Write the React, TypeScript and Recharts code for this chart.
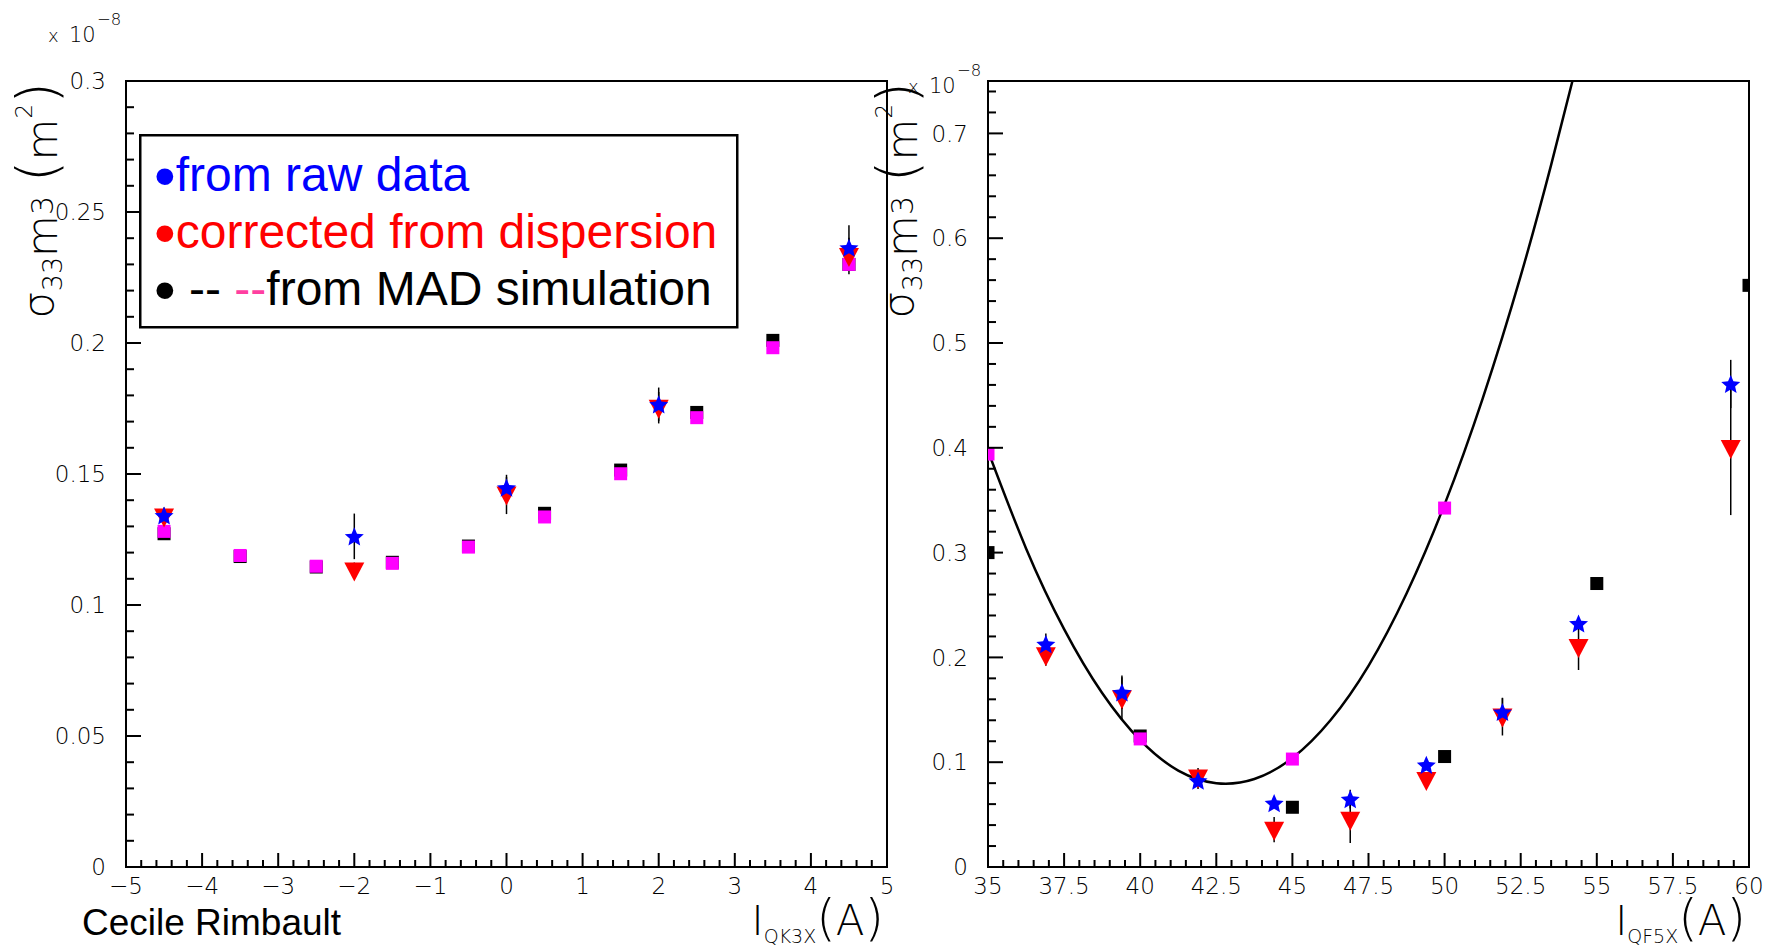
import React from 'react';
import { ComposedChart, Scatter, Line, XAxis, YAxis, ReferenceArea, ErrorBar, Legend } from 'recharts';

// ---- left pad : scan of I_QK3X ----
const qkX = [-4.5, -2, 0, 2, 4.5];
const qkRaw = [0.1342, 0.1262, 0.1448, 0.1766, 0.2364];
const qkRawErr = [0.003, 0.0087, 0.004, 0.0064, 0.0085];
const qkCorr = [0.1338, 0.1132, 0.1422, 0.1753, 0.2332];
const qkCorrErr = [0.003, 0.003, 0.0075, 0.006, 0.007];
const qkMadX = [-4.5, -3.5, -2.5, -1.5, -0.5, 0.5, 1.5, 2.5, 3.5, 4.5];
const qkMadBlack = [0.1272, 0.1185, 0.1145, 0.1163, 0.1225, 0.135, 0.1515, 0.1735, 0.201, 0.23];
const qkMadPink = [0.1281, 0.1189, 0.1148, 0.1159, 0.1221, 0.1336, 0.1501, 0.1715, 0.1982, 0.23];
const qkXTicks = [-5, -4, -3, -2, -1, 0, 1, 2, 3, 4, 5];
const qkYTicks = [0, 0.05, 0.1, 0.15, 0.2, 0.25, 0.3];

// ---- right pad : scan of I_QF5X ----
const qfX = [36.9, 39.4, 41.9, 44.4, 46.9, 49.4, 51.9, 54.4, 59.4];
const qfRaw = [0.2127, 0.1667, 0.0825, 0.061, 0.0648, 0.0975, 0.148, 0.2324, 0.4609];
const qfRawErr = [0.01, 0.016, 0.008, 0.005, 0.009, 0.005, 0.013, 0.005, 0.023];
const qfCorr = [0.202, 0.161, 0.0855, 0.0356, 0.045, 0.083, 0.1435, 0.21, 0.3998];
const qfCorrErr = [0.01, 0.02, 0.009, 0.012, 0.022, 0.005, 0.018, 0.022, 0.064];
const qfMadBlackX = [35, 40, 45, 50, 55, 60];
const qfMadBlack = [0.3, 0.125, 0.057, 0.1054, 0.2705, 0.555];
const qfMadPinkX = [35, 40, 45, 50];
const qfMadPink = [0.394, 0.1222, 0.103, 0.3425];
const qfFitX = [35, 36.25, 37.5, 38.75, 40, 41.25, 42.5, 43.75, 45, 46.25, 47.5, 48.75, 50, 51.25, 52.5, 53.5, 54.2];
const qfFitY = [0.397, 0.304, 0.227, 0.166, 0.121, 0.092, 0.08, 0.084, 0.104, 0.14, 0.192, 0.261, 0.346, 0.447, 0.564, 0.67, 0.75];
const qfXTicks = [35, 37.5, 40, 42.5, 45, 47.5, 50, 52.5, 55, 57.5, 60];
const qfYTicks = [0, 0.1, 0.2, 0.3, 0.4, 0.5, 0.6, 0.7];

const legendLabels = ['from raw data', 'corrected from dispersion', 'from MAD simulation'];

const zip = (xs: number[], ys: number[], errs?: number[]) =>
  xs.map((x, i) => ({ x, y: ys[i], err: errs ? errs[i] : 0 }));

// minor ticks every `step` between lo and hi
const steps = (lo: number, hi: number, step: number) => {
  const out: number[] = [];
  for (let v = lo; v <= hi + 1e-9; v += step) out.push(Math.round(v * 1e6) / 1e6);
  return out;
};

const THIN = "'DejaVu Sans', sans-serif";
const ARIAL = "'Liberation Sans', Arial, sans-serif";
const PINK = '#ff3fa0';

const isMajor = (majors: number[], v: number) => majors.some((m) => Math.abs(m - v) < 1e-7);

const minusFmt = (v: number) => (v < 0 ? `\u2212${Math.abs(v)}` : `${v}`);

const makeYTick = (majors: number[]) => (props: any) => {
  const { x, y, payload } = props;
  const major = isMajor(majors, payload.value);
  return (
    <g>
      <line x1={x} x2={x + (major ? 15 : 8)} y1={y} y2={y} stroke="#000" strokeWidth={2} />
      {major && (
        <text x={x - 20} y={y} dy="0.36em" textAnchor="end" fontFamily={THIN} fontWeight={200} fontSize={23} fill="#000">
          {payload.value}
        </text>
      )}
    </g>
  );
};

const makeXTick = (majors: number[]) => (props: any) => {
  const { x, y, payload } = props;
  const major = isMajor(majors, payload.value);
  return (
    <g>
      <line x1={x} x2={x} y1={y} y2={y - (major ? 14 : 7)} stroke="#000" strokeWidth={2} />
      {major && (
        <text x={x} y={y + 27} textAnchor="middle" fontFamily={THIN} fontWeight={200} fontSize={23} fill="#000">
          {minusFmt(payload.value)}
        </text>
      )}
    </g>
  );
};

const Star = (p: any) => {
  const { cx, cy } = p;
  if (cx == null || cy == null) return null;
  let pts = '';
  for (let i = 0; i < 10; i++) {
    const a = -Math.PI / 2 + (i * Math.PI) / 5;
    const r = i % 2 === 0 ? 10 : 4.6;
    pts += `${cx + r * Math.cos(a)},${cy + 1 + r * Math.sin(a)} `;
  }
  return <polygon points={pts} fill="#0000ff" />;
};

const TriDown = (p: any) => {
  const { cx, cy } = p;
  if (cx == null || cy == null) return null;
  return <polygon points={`${cx - 10},${cy - 8} ${cx + 10},${cy - 8} ${cx},${cy + 11}`} fill="#ff0000" />;
};

const square = (color: string) => (p: any) => {
  const { cx, cy } = p;
  if (cx == null || cy == null) return null;
  return <rect x={cx - 6.5} y={cy - 6.5} width={13} height={13} fill={color} />;
};

// sigma_33 m^3 (m^2) rotated title plus the x10^-8 exponent
const YTitle = (props: any) => {
  const vb = props.viewBox || { x: 0 };
  const bx = vb.x + 56;
  const exY = props.exY as number;
  return (
    <g fontFamily={THIN} fontWeight={200} fill="#000">
      <text transform={`translate(${bx},82) rotate(-90)`} textAnchor="end" fontSize={43}>
        <tspan dy={-3}>σ</tspan>
        <tspan fontSize={27} dy={9}>33</tspan>
        <tspan dy={-5}>m</tspan>
        <tspan fontSize={30} dy={-4}>3</tspan>
        <tspan dy={4}> </tspan>
        <tspan fontSize={56} dy={-1}>(</tspan>
        <tspan dy={1}>m</tspan>
        <tspan fontSize={23} dy={-25}>2</tspan>
        <tspan fontSize={56} dy={24}>)</tspan>
      </text>
      <text x={vb.x + 48} y={exY} fontSize={18}>x</text>
      <text x={vb.x + 69} y={exY} fontSize={21}>10</text>
      <text x={vb.x + 97} y={exY - 17} fontSize={16.5}>{'\u22128'}</text>
    </g>
  );
};

const XTitle = (props: any) => {
  const vb = props.viewBox || { x: 0, y: 0, width: 0 };
  const sub = props.sub as string;
  return (
    <g>
      <text x={vb.x + vb.width - 3} y={935} textAnchor="end" fontFamily={THIN} fontWeight={200} fill="#000" fontSize={41}>
        <tspan>I</tspan>
        <tspan fontSize={19} dy={8}>{sub}</tspan>
        <tspan fontSize={50} dy={-8}>(</tspan>
        <tspan fontSize={42}>A</tspan>
        <tspan fontSize={50}>)</tspan>
      </text>
      {props.author && (
        <text x={82} y={935} fontFamily={ARIAL} fontSize={37} fill="#000">
          {props.author}
        </text>
      )}
    </g>
  );
};

const Bullet = () => (
  <tspan fontSize={62} dy={6}>
    {'\u2022'}
  </tspan>
);

const LegendBox = () => (
  <svg width={600} height={196} style={{ display: 'block' }}>
    <rect x={1.25} y={1.25} width={597} height={192} fill="#fff" stroke="#000" strokeWidth={2.5} />
    <g fontFamily={ARIAL} fontSize={48}>
      <text x={15} y={57} fill="#0000ff">
        <Bullet />
        <tspan dy={-6}>{legendLabels[0]}</tspan>
      </text>
      <text x={15} y={114} fill="#ff0000">
        <Bullet />
        <tspan dy={-6}>{legendLabels[1]}</tspan>
      </text>
      <text x={15} y={171} fill="#000">
        <Bullet />
        <tspan dy={-6}>{' -- '}</tspan>
        <tspan fill={PINK}>--</tspan>
        <tspan>{legendLabels[2]}</tspan>
      </text>
    </g>
  </svg>
);

export default function App() {
  const qkRawData = zip(qkX, qkRaw, qkRawErr);
  const qkCorrData = zip(qkX, qkCorr, qkCorrErr);
  const qkBlackData = zip(qkMadX, qkMadBlack);
  const qkPinkData = zip(qkMadX, qkMadPink);

  const qfRawData = zip(qfX, qfRaw, qfRawErr);
  const qfCorrData = zip(qfX, qfCorr, qfCorrErr);
  const qfBlackData = zip(qfMadBlackX, qfMadBlack);
  const qfPinkData = zip(qfMadPinkX, qfMadPink);
  const qfFitData = zip(qfFitX, qfFitY);

  return (
    <div style={{ position: 'absolute', left: 0, top: 0, width: 1777, height: 946, background: '#fff' }}>
      <div style={{ position: 'absolute', left: 0, top: 0 }}>
        <ComposedChart width={905} height={946} margin={{ top: 81, right: 18, bottom: 0, left: 0 }}>
          <XAxis
            dataKey="x"
            type="number"
            domain={[-5, 5]}
            ticks={steps(-5, 5, 0.2)}
            interval={0}
            allowDataOverflow
            height={79}
            tickSize={0}
            tickMargin={0}
            axisLine={{ stroke: '#000', strokeWidth: 2 }}
            tick={makeXTick(qkXTicks)}
            label={(p: any) => <XTitle {...p} sub="QK3X" author="Cecile Rimbault" />}
          />
          <YAxis
            type="number"
            domain={[0, 0.3]}
            ticks={steps(0, 0.3, 0.01)}
            interval={0}
            allowDataOverflow
            width={126}
            tickSize={0}
            tickMargin={0}
            axisLine={{ stroke: '#000', strokeWidth: 2 }}
            tick={makeYTick(qkYTicks)}
            label={(p: any) => <YTitle {...p} exY={42} />}
          />
          <ReferenceArea x1={-5} x2={5} y1={0} y2={0.3} fill="none" stroke="#000" strokeWidth={2} ifOverflow="visible" />
          <Scatter data={qkBlackData} dataKey="y" shape={square('#000')} isAnimationActive={false} />
          <Scatter data={qkPinkData} dataKey="y" shape={square('#ff00ff')} isAnimationActive={false} />
          <Scatter data={qkCorrData} dataKey="y" shape={TriDown} isAnimationActive={false}>
            <ErrorBar dataKey="err" direction="y" width={0} stroke="#000" strokeWidth={1.5} />
          </Scatter>
          <Scatter data={qkRawData} dataKey="y" shape={Star} isAnimationActive={false}>
            <ErrorBar dataKey="err" direction="y" width={0} stroke="#000" strokeWidth={1.5} />
          </Scatter>
          <Legend
            layout="vertical"
            align="center"
            verticalAlign="middle"
            content={() => <LegendBox />}
            wrapperStyle={{ left: 139, top: 134, width: 600, height: 196 }}
          />
        </ComposedChart>
      </div>
      <div style={{ position: 'absolute', left: 860, top: 0 }}>
        <ComposedChart width={917} height={946} margin={{ top: 81, right: 28, bottom: 0, left: 0 }}>
          <XAxis
            dataKey="x"
            type="number"
            domain={[35, 60]}
            ticks={steps(35, 60, 0.5)}
            interval={0}
            allowDataOverflow
            height={79}
            tickSize={0}
            tickMargin={0}
            axisLine={{ stroke: '#000', strokeWidth: 2 }}
            tick={makeXTick(qfXTicks)}
            label={(p: any) => <XTitle {...p} sub="QF5X" />}
          />
          <YAxis
            type="number"
            domain={[0, 0.75]}
            ticks={steps(0, 0.74, 0.02)}
            interval={0}
            allowDataOverflow
            width={128}
            tickSize={0}
            tickMargin={0}
            axisLine={{ stroke: '#000', strokeWidth: 2 }}
            tick={makeYTick(qfYTicks)}
            label={(p: any) => <YTitle {...p} exY={93} />}
          />
          <ReferenceArea x1={35} x2={60} y1={0} y2={0.75} fill="none" stroke="#000" strokeWidth={2} ifOverflow="visible" />
          <Scatter data={qfBlackData} dataKey="y" shape={square('#000')} isAnimationActive={false} />
          <Scatter data={qfPinkData} dataKey="y" shape={square('#ff00ff')} isAnimationActive={false} />
          <Line data={qfFitData} dataKey="y" type="natural" stroke="#000" strokeWidth={2.5} dot={false} activeDot={false} isAnimationActive={false} />
          <Scatter data={qfCorrData} dataKey="y" shape={TriDown} isAnimationActive={false}>
            <ErrorBar dataKey="err" direction="y" width={0} stroke="#000" strokeWidth={1.5} />
          </Scatter>
          <Scatter data={qfRawData} dataKey="y" shape={Star} isAnimationActive={false}>
            <ErrorBar dataKey="err" direction="y" width={0} stroke="#000" strokeWidth={1.5} />
          </Scatter>
        </ComposedChart>
      </div>
    </div>
  );
}
